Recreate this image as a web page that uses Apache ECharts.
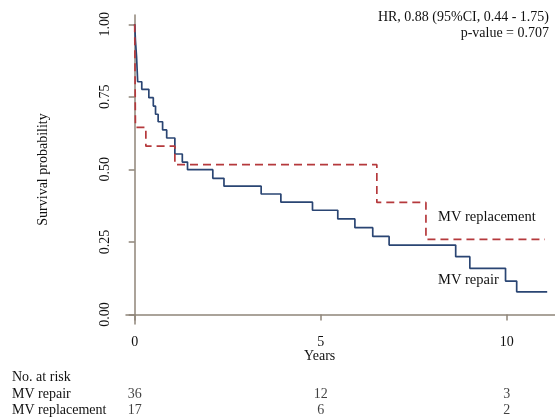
<!DOCTYPE html>
<html>
<head>
<meta charset="utf-8">
<script src="https://cdn.jsdelivr.net/npm/echarts@6/dist/echarts.min.js"></script>
<style>
html, body { margin: 0; padding: 0; background: #fff; }
#main { width: 555px; height: 419px; }
</style>
</head>
<body>
<div id="main"></div>
<script>
// Kaplan-Meier steps (years, survival after the step)
const repairTime = [0, 0.02, 0.05, 0.08, 0.19, 0.38, 0.50, 0.56, 0.63, 0.75, 0.86, 1.08, 1.28, 1.42, 2.10, 2.40, 3.40, 3.93, 4.78, 5.46, 5.92, 6.40, 6.84, 8.63, 9.01, 9.97, 10.27, 11.09];
const repairSurv = [1, 0.944, 0.888, 0.802, 0.776, 0.747, 0.718, 0.690, 0.664, 0.636, 0.608, 0.553, 0.525, 0.499, 0.469, 0.442, 0.415, 0.387, 0.359, 0.329, 0.299, 0.269, 0.239, 0.199, 0.159, 0.115, 0.078, 0.078];
const replTime = [0, 0.02, 0.30, 1.08, 6.51, 7.83, 11.03];
const replSurv = [1, 0.645, 0.580, 0.516, 0.386, 0.259, 0.259];

const xTicks = [0, 5, 10];
const yTicks = [0, 0.25, 0.5, 0.75, 1];

const riskRows = ['MV repair', 'MV replacement'];
const riskTimes = [0, 5, 10];
const repairAtRisk = [36, 12, 3];
const replAtRisk = [17, 6, 2];

const font = 'Liberation Serif';
const axisColor = '#8f8579';
const blue = '#2a4573';
const red = '#b5393c';

let myChart = echarts.init(document.getElementById('main'));

let riskData = [];
riskTimes.forEach(function (t, i) {
    riskData.push([t, riskRows[0], repairAtRisk[i]]);
    riskData.push([t, riskRows[1], replAtRisk[i]]);
});

let option = {
    animation: false,
    backgroundColor: '#fff',
    textStyle: { fontFamily: font },
    grid: [
        { left: 126, right: 0, top: 15, bottom: 95 },
        { left: 126, right: 0, top: 386, height: 32 }
    ],
    xAxis: [
        {
            type: 'value', gridIndex: 0, min: -0.234, max: 11.3,
            axisLine: { show: true, lineStyle: { color: axisColor, width: 1.5 } },
            axisTick: { show: true, length: 6, customValues: xTicks, lineStyle: { color: axisColor, width: 1.5 } },
            axisLabel: { customValues: xTicks, margin: 11, color: '#111', fontFamily: font, fontSize: 14 },
            splitLine: { show: false }
        },
        {
            type: 'value', gridIndex: 1, min: -0.234, max: 11.3, show: false
        }
    ],
    yAxis: [
        {
            type: 'value', gridIndex: 0, min: -0.033, max: 1.032,
            name: 'Survival probability', nameLocation: 'middle', nameGap: 76, nameRotate: 90,
            nameTextStyle: { color: '#111', fontFamily: font, fontSize: 14 },
            axisLine: { show: true, lineStyle: { color: axisColor, width: 1.5 } },
            axisTick: { show: true, length: 6, customValues: yTicks, lineStyle: { color: axisColor, width: 1.5 } },
            axisLabel: {
                customValues: yTicks, rotate: 90, margin: 14, color: '#111', fontFamily: font, fontSize: 14,
                formatter: function (v) { return v.toFixed(2); }
            },
            splitLine: { show: false }
        },
        {
            type: 'category', gridIndex: 1, data: riskRows, inverse: true,
            axisLine: { show: false }, axisTick: { show: false },
            axisLabel: { interval: 0, align: 'left', margin: 114, color: '#111', fontFamily: font, fontSize: 14 }
        }
    ],
    graphic: [
        { type: 'text', right: 6, top: 10, style: { text: 'HR, 0.88 (95%CI, 0.44 - 1.75)', font: '14px ' + font, fill: '#111' } },
        { type: 'text', right: 6, top: 26, style: { text: 'p-value = 0.707', font: '14px ' + font, fill: '#111' } },
        { type: 'text', left: 12, top: 370, style: { text: 'No. at risk', font: '14px ' + font, fill: '#111' } },
        { type: 'text', left: 304, top: 349, style: { text: 'Years', font: '14px ' + font, fill: '#111' } },
        { type: 'text', left: 438, top: 210, style: { text: 'MV replacement', font: '14.5px ' + font, fill: '#111' } },
        { type: 'text', left: 438, top: 273, style: { text: 'MV repair', font: '14.5px ' + font, fill: '#111' } }
    ],
    series: [
        {
            name: 'MV repair', type: 'line', step: 'end', symbol: 'none',
            xAxisIndex: 0, yAxisIndex: 0,
            lineStyle: { color: blue, width: 1.7 },
            data: repairTime.map(function (t, i) { return [t, repairSurv[i]]; })
        },
        {
            name: 'MV replacement', type: 'line', step: 'end', symbol: 'none',
            xAxisIndex: 0, yAxisIndex: 0,
            lineStyle: { color: red, width: 1.7, type: [8, 5] },
            data: replTime.map(function (t, i) { return [t, replSurv[i]]; })
        },
        {
            type: 'scatter', xAxisIndex: 1, yAxisIndex: 1, symbolSize: 0,
            label: {
                show: true, position: 'inside', color: '#111', fontFamily: font, fontSize: 14,
                formatter: function (p) { return String(p.value[2]); }
            },
            data: riskData
        }
    ]
};

myChart.setOption(option);
</script>
</body>
</html>
